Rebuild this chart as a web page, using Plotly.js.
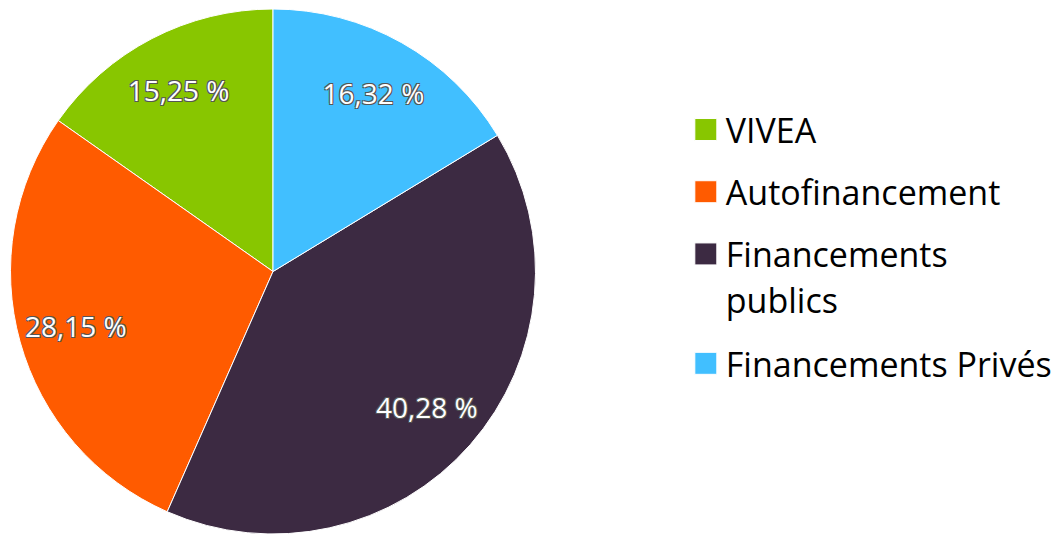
<!DOCTYPE html>
<html>
<head>
<meta charset="utf-8">
<script src="https://cdn.plot.ly/plotly-3.0.1.min.js"></script>
<style>
html,body{margin:0;padding:0;background:#fff;}
#chart{width:1060px;height:534px;}
</style>
</head>
<body>
<div id="chart"></div>
<script>
const categories = ["VIVEA", "Autofinancement", "Financements<br>publics", "Financements Privés"];
const shares = [15.25, 28.15, 40.28, 16.32];
const colors = ["#88C600", "#FF5B00", "#3C2A42", "#41BFFF"];

const total = shares.reduce((a, b) => a + b, 0);
// first slice begins at 12 o'clock and the slices run counterclockwise
const startRotation = -shares[0] / total * 360;
const pieDomain = {x: [10/1060, 536/1060], y: [0, 1 - 9/534]};

const slices = {
  type: "pie",
  labels: categories,
  values: shares,
  sort: false,
  direction: "counterclockwise",
  rotation: startRotation,
  marker: {colors: colors, line: {color: "#ffffff", width: 1}},
  textinfo: "none",
  hoverinfo: "label+percent",
  domain: pieDomain
};

// transparent ring on top carries the percentage labels
const labelsRing = {
  type: "pie",
  labels: categories,
  values: shares,
  sort: false,
  direction: "counterclockwise",
  rotation: startRotation,
  hole: 0.56,
  showlegend: false,
  marker: {colors: ["rgba(0,0,0,0)", "rgba(0,0,0,0)", "rgba(0,0,0,0)", "rgba(0,0,0,0)"], line: {width: 0}},
  texttemplate: "%{value:.2f} %",
  textposition: "inside",
  insidetextorientation: "horizontal",
  textfont: {family: "'Open Sans', sans-serif", size: 28, color: "#ffffff",
             shadow: "1px 1px 0 #555, -1px -1px 0 #555, 1px -1px 0 #555, -1px 1px 0 #555"},
  hoverinfo: "skip",
  domain: pieDomain
};

const layout = {
  width: 1060, height: 534,
  margin: {l: 0, r: 0, t: 0, b: 0},
  paper_bgcolor: "#ffffff",
  separators: ", ",
  showlegend: true,
  legend: {
    x: 0.647, y: 0.811, xanchor: "left", yanchor: "top",
    valign: "top",
    font: {family: "'Open Sans', sans-serif", size: 34, color: "#000000"},
    itemwidth: 30
  }
};

Plotly.newPlot("chart", [slices, labelsRing], layout, {displayModeBar: false, staticPlot: true}).then(gd => {
  const extra = [0, 15, 30, 48];
  gd.querySelectorAll('.legend .traces').forEach((g, i) => {
    const m = /translate\(([^,]+),\s*([^)]+)\)/.exec(g.getAttribute('transform') || '');
    if (m) g.setAttribute('transform', 'translate(' + m[1] + ',' + (parseFloat(m[2]) + (extra[i] || 0)) + ')');
    g.querySelectorAll('.legendpoints path').forEach(p => p.setAttribute('d', 'M11,11H-11V-11H11Z'));
    g.querySelectorAll('.legendtext tspan.line').forEach((t, k) => { if (k > 0) t.setAttribute('dy', '1.35em'); });
  });
  gd.querySelectorAll('.legend .scrollbox').forEach(s => s.removeAttribute('clip-path'));
  gd.querySelectorAll('.legend').forEach(s => s.removeAttribute('clip-path'));
});
</script>
</body>
</html>
